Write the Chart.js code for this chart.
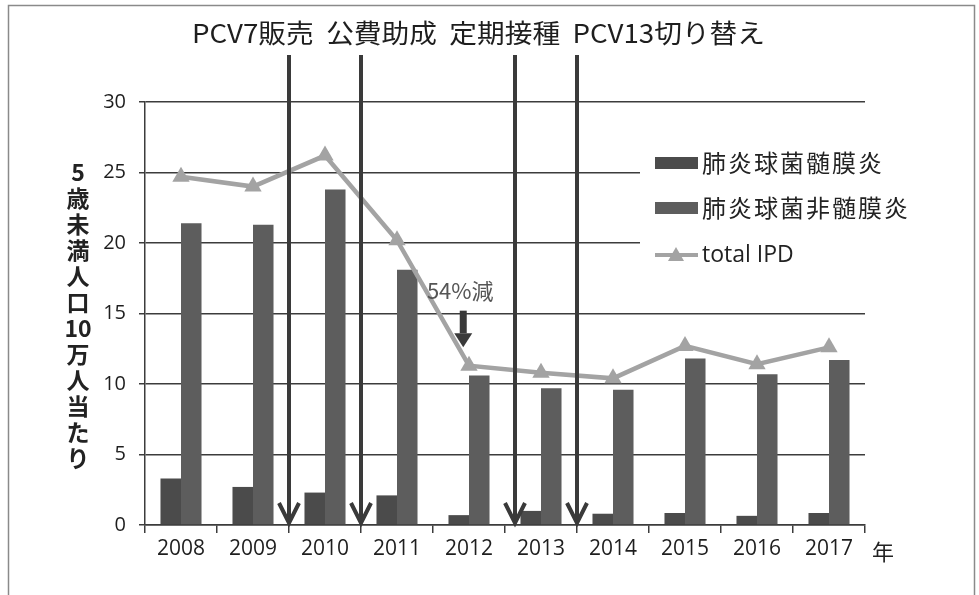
<!DOCTYPE html>
<html>
<head>
<meta charset="utf-8">
<script src="https://cdn.jsdelivr.net/npm/chart.js@4"></script>
<style>
  html, body { margin: 0; padding: 0; background: #fff; }
  #wrap { width: 979px; height: 595px; position: relative; }
</style>
</head>
<body>
<div id="wrap"><canvas id="chart" width="979" height="595"></canvas></div>
<script>
// Data
const years = ["2008", "2009", "2010", "2011", "2012", "2013", "2014", "2015", "2016", "2017"];
const meningitis = [3.3, 2.7, 2.3, 2.1, 0.7, 1.0, 0.8, 0.85, 0.65, 0.85];
const nonMeningitis = [21.4, 21.3, 23.8, 18.1, 10.6, 9.7, 9.6, 11.8, 10.7, 11.7];
const totalIPD = [24.7, 24.0, 26.2, 20.2, 11.3, 10.8, 10.4, 12.7, 11.4, 12.6];
const seriesNames = ["肺炎球菌髄膜炎", "肺炎球菌非髄膜炎", "total IPD"];
const yTicks = [0, 5, 10, 15, 20, 25, 30];
// vertical event markers, in category units (1.5 = between 2009 and 2010)
const eventPositions = [1.5, 2.5, 4.64, 5.5];
const eventTitle = "PCV7販売  公費助成  定期接種  PCV13切り替え";
const yTitleChars = ["5", "歳", "未", "満", "人", "口", "10", "万", "人", "当", "た", "り"];

const JP = '"Noto Sans CJK JP", "Noto Sans", sans-serif';
const NUM = '"Open Sans", "Noto Sans", sans-serif';
const colors = { men: "#4b4b4b", non: "#5d5d5d", line: "#a3a3a3", grid: "#3c3c3c", arrow: "#3a3a3a" };

function xAt(scale, pos) {
    const i = Math.floor(pos);
    const step = scale.getPixelForValue(1) - scale.getPixelForValue(0);
    return scale.getPixelForValue(i) + (pos - i) * step;
}

const decorations = {
    id: "decorations",
    beforeDraw(chart) {
        const ctx = chart.ctx;
        ctx.save();
        ctx.fillStyle = "#fff";
        ctx.fillRect(0, 0, chart.width, chart.height);
        ctx.strokeStyle = "#8a8a8a";
        ctx.lineWidth = 1.5;
        ctx.strokeRect(8.5, 5.5, 966, 620);
        ctx.restore();
    },
    beforeDatasetsDraw(chart) {
        // white legend panel hides the gridlines behind it
        const ctx = chart.ctx;
        const area = chart.chartArea;
        ctx.save();
        ctx.fillStyle = "#fff";
        ctx.fillRect(640, 120, area.right - 640 + 1, 165);
        ctx.restore();
    },
    afterDatasetsDraw(chart) {
        const ctx = chart.ctx;
        const x = chart.scales.x, y = chart.scales.y;
        const area = chart.chartArea;
        ctx.save();

        // event lines with open arrow heads
        ctx.strokeStyle = colors.arrow;
        ctx.lineWidth = 4;
        ctx.lineCap = "butt";
        eventPositions.forEach(p => {
            const px = Math.round(xAt(x, p));
            ctx.beginPath();
            ctx.moveTo(px, 55);
            ctx.lineTo(px, area.bottom - 2);
            ctx.stroke();
            ctx.beginPath();
            ctx.moveTo(px - 10, area.bottom - 22);
            ctx.lineTo(px, area.bottom - 2);
            ctx.lineTo(px + 10, area.bottom - 22);
            ctx.stroke();
        });

        // event title (condensed)
        ctx.fillStyle = "#1e1e1e";
        ctx.font = '26px ' + JP;
        ctx.textBaseline = "middle";
        ctx.textAlign = "left";
        const w = ctx.measureText(eventTitle).width;
        ctx.translate(192, 33);
        ctx.scale(573 / w, 1);
        ctx.fillText(eventTitle, 0, 0);
        ctx.setTransform(1, 0, 0, 1, 0, 0);

        // 54%減 annotation
        const ax = xAt(x, 3.92);
        ctx.fillStyle = "#555";
        ctx.font = '22px ' + JP;
        ctx.textAlign = "center";
        ctx.fillText("54%減", ax - 3, y.getPixelForValue(16.6));
        ctx.fillStyle = colors.arrow;
        const top = y.getPixelForValue(15.2), neck = y.getPixelForValue(13.6), tip = y.getPixelForValue(12.6);
        ctx.fillRect(ax - 3.5, top, 7, neck - top);
        ctx.beginPath();
        ctx.moveTo(ax - 9, neck);
        ctx.lineTo(ax + 9, neck);
        ctx.lineTo(ax, tip);
        ctx.closePath();
        ctx.fill();

        // legend
        const rows = [163, 208, 255];
        ctx.textAlign = "left";
        ctx.fillStyle = colors.men;
        ctx.fillRect(655, rows[0] - 6, 43, 12);
        ctx.fillStyle = colors.non;
        ctx.fillRect(655, rows[1] - 6, 43, 12);
        ctx.strokeStyle = colors.line;
        ctx.lineWidth = 4;
        ctx.beginPath();
        ctx.moveTo(655, rows[2]);
        ctx.lineTo(698, rows[2]);
        ctx.stroke();
        ctx.fillStyle = colors.line;
        ctx.beginPath();
        ctx.moveTo(676, rows[2] - 8);
        ctx.lineTo(684, rows[2] + 6);
        ctx.lineTo(668, rows[2] + 6);
        ctx.closePath();
        ctx.fill();
        ctx.fillStyle = "#222";
        ctx.font = '24px ' + JP;
        ctx.letterSpacing = "2px";
        ctx.fillText(seriesNames[0], 702, rows[0]);
        ctx.fillText(seriesNames[1], 702, rows[1]);
        ctx.letterSpacing = "0px";
        ctx.font = '23px ' + NUM;
        ctx.fillText(seriesNames[2], 702, rows[2]);

        // y axis title, stacked characters
        ctx.font = '600 23px ' + JP;
        ctx.textAlign = "center";
        yTitleChars.forEach((c, i) => {
            ctx.fillText(c, 78, 172 + i * 26);
        });

        // unit after the last year
        ctx.font = '22px ' + JP;
        ctx.fillText("年", 883, 552);
        ctx.restore();
    }
};

const ctx = document.getElementById("chart").getContext("2d");
new Chart(ctx, {
    type: "bar",
    data: {
        labels: years,
        datasets: [
            {
                type: "line",
                label: seriesNames[2],
                data: totalIPD,
                borderColor: colors.line,
                backgroundColor: colors.line,
                borderWidth: 4.5,
                pointStyle: "triangle",
                pointRadius: 10,
                pointBorderWidth: 0,
                tension: 0,
                order: 0
            },
            {
                label: seriesNames[0],
                data: meningitis,
                backgroundColor: colors.men,
                barPercentage: 1.0,
                categoryPercentage: 0.57,
                order: 1
            },
            {
                label: seriesNames[1],
                data: nonMeningitis,
                backgroundColor: colors.non,
                barPercentage: 1.0,
                categoryPercentage: 0.57,
                order: 1
            }
        ]
    },
    options: {
        responsive: false,
        animation: false,
        layout: { padding: { left: 0, top: 102, right: 114, bottom: 30 } },
        plugins: {
            legend: { display: false },
            tooltip: { enabled: false }
        },
        scales: {
            x: {
                grid: { display: true, drawOnChartArea: false, offset: true, color: colors.grid, lineWidth: 1.5, tickLength: 8 },
                border: { display: true, color: colors.grid, width: 1.5 },
                ticks: { color: "#1e1e1e", font: { family: NUM, size: 21 }, padding: 3, maxRotation: 0 },
                afterFit(scale) { scale.height = 40; }
            },
            y: {
                min: 0,
                max: 30,
                afterBuildTicks(scale) { scale.ticks = yTicks.map(v => ({ value: v })); },
                grid: { color: colors.grid, lineWidth: 1.5, tickLength: 6 },
                border: { display: true, color: colors.grid, width: 1.5 },
                ticks: { color: "#1e1e1e", font: { family: NUM, size: 20 }, padding: 13 },
                afterFit(scale) { scale.width = 145; }
            }
        }
    },
    plugins: [decorations]
});
</script>
</body>
</html>
